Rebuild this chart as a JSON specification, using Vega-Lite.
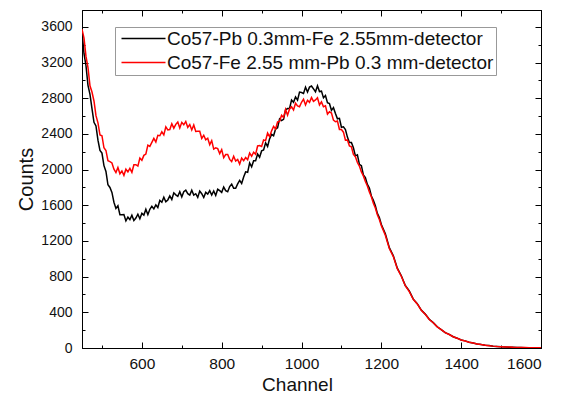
{
  "$schema": "https://vega.github.io/schema/vega-lite/v6.json",
  "width": 459,
  "height": 338,
  "autosize": {"type": "none"},
  "padding": {"left": 82, "top": 10, "right": 20, "bottom": 50},
  "background": "white",
  "config": {
    "font": "Liberation Sans",
    "view": {"stroke": "#000", "strokeWidth": 1},
    "axis": {"grid": false, "ticks": true, "tickWidth": 1, "tickSize": -6, "domainColor": "#000", "tickColor": "#000", "labelColor": "#111", "titleColor": "#111", "titleFontWeight": "normal", "labelFont": "Liberation Sans", "titleFont": "Liberation Sans"}
  },
  "data": {"values": [
    {"ch":450,"pb":3550,"fe":3575},{"ch":455,"pb":3300,"fe":3475},{"ch":460,"pb":3165,"fe":3270},{"ch":465,"pb":2945,"fe":3145},{"ch":470,"pb":2845,"fe":2940},
    {"ch":475,"pb":2685,"fe":2870},{"ch":480,"pb":2530,"fe":2770},{"ch":485,"pb":2490,"fe":2605},{"ch":490,"pb":2330,"fe":2525},{"ch":495,"pb":2215,"fe":2390},
    {"ch":500,"pb":2185,"fe":2380},{"ch":505,"pb":2045,"fe":2245},{"ch":510,"pb":1980,"fe":2215},{"ch":515,"pb":1830,"fe":2100},{"ch":520,"pb":1800,"fe":2090},
    {"ch":525,"pb":1745,"fe":2075},{"ch":530,"pb":1635,"fe":2005},{"ch":535,"pb":1565,"fe":1967},{"ch":540,"pb":1595,"fe":2025},{"ch":545,"pb":1495,"fe":1954},
    {"ch":550,"pb":1495,"fe":1985},{"ch":555,"pb":1497,"fe":1936},{"ch":560,"pb":1425,"fe":2005},{"ch":565,"pb":1467,"fe":1974},{"ch":570,"pb":1440,"fe":2015},
    {"ch":575,"pb":1490,"fe":1970},{"ch":580,"pb":1430,"fe":2055},{"ch":585,"pb":1457,"fe":2055},{"ch":590,"pb":1500,"fe":2040},{"ch":595,"pb":1450,"fe":2130},
    {"ch":600,"pb":1510,"fe":2105},{"ch":605,"pb":1490,"fe":2160},{"ch":610,"pb":1555,"fe":2175},{"ch":615,"pb":1495,"fe":2275},{"ch":620,"pb":1555,"fe":2260},
    {"ch":625,"pb":1590,"fe":2305},{"ch":630,"pb":1560,"fe":2350},{"ch":635,"pb":1605,"fe":2310},{"ch":640,"pb":1575,"fe":2385},{"ch":645,"pb":1655,"fe":2380},
    {"ch":650,"pb":1635,"fe":2425},{"ch":655,"pb":1692,"fe":2390},{"ch":660,"pb":1640,"fe":2480},{"ch":665,"pb":1660,"fe":2445},{"ch":670,"pb":1705,"fe":2450},
    {"ch":675,"pb":1665,"fe":2515},{"ch":680,"pb":1740,"fe":2465},{"ch":685,"pb":1717,"fe":2508},{"ch":690,"pb":1700,"fe":2535},{"ch":695,"pb":1753,"fe":2468},
    {"ch":700,"pb":1695,"fe":2530},{"ch":705,"pb":1753,"fe":2503},{"ch":710,"pb":1770,"fe":2540},{"ch":715,"pb":1730,"fe":2473},{"ch":720,"pb":1715,"fe":2505},
    {"ch":725,"pb":1770,"fe":2445},{"ch":730,"pb":1715,"fe":2500},{"ch":735,"pb":1730,"fe":2428},{"ch":740,"pb":1690,"fe":2430},{"ch":745,"pb":1760,"fe":2430},
    {"ch":750,"pb":1730,"fe":2350},{"ch":755,"pb":1687,"fe":2385},{"ch":760,"pb":1745,"fe":2335},{"ch":765,"pb":1725,"fe":2352},{"ch":770,"pb":1765,"fe":2280},
    {"ch":775,"pb":1715,"fe":2325},{"ch":780,"pb":1760,"fe":2230},{"ch":785,"pb":1710,"fe":2245},{"ch":790,"pb":1780,"fe":2235},{"ch":795,"pb":1765,"fe":2180},
    {"ch":800,"pb":1745,"fe":2225},{"ch":805,"pb":1805,"fe":2135},{"ch":810,"pb":1765,"fe":2170},{"ch":815,"pb":1752,"fe":2170},{"ch":820,"pb":1810,"fe":2115},
    {"ch":825,"pb":1837,"fe":2090},{"ch":830,"pb":1790,"fe":2150},{"ch":835,"pb":1790,"fe":2097},{"ch":840,"pb":1840,"fe":2115},{"ch":845,"pb":1880,"fe":2062},
    {"ch":850,"pb":1845,"fe":2130},{"ch":855,"pb":1917,"fe":2100},{"ch":860,"pb":1975,"fe":2135},{"ch":865,"pb":1970,"fe":2110},{"ch":870,"pb":2075,"fe":2185},
    {"ch":875,"pb":2032,"fe":2150},{"ch":880,"pb":2100,"fe":2195},{"ch":885,"pb":2100,"fe":2172},{"ch":890,"pb":2175,"fe":2265},{"ch":895,"pb":2140,"fe":2270},
    {"ch":900,"pb":2210,"fe":2260},{"ch":905,"pb":2220,"fe":2332},{"ch":910,"pb":2300,"fe":2325},{"ch":915,"pb":2260,"fe":2410},{"ch":920,"pb":2345,"fe":2370},
    {"ch":925,"pb":2395,"fe":2435},{"ch":930,"pb":2380,"fe":2485},{"ch":935,"pb":2455,"fe":2455},{"ch":940,"pb":2470,"fe":2535},{"ch":945,"pb":2570,"fe":2540},
    {"ch":950,"pb":2550,"fe":2610},{"ch":955,"pb":2565,"fe":2585},{"ch":960,"pb":2670,"fe":2675},{"ch":965,"pb":2685,"fe":2610},{"ch":970,"pb":2685,"fe":2680},
    {"ch":975,"pb":2780,"fe":2705},{"ch":980,"pb":2755,"fe":2670},{"ch":985,"pb":2815,"fe":2745},{"ch":990,"pb":2780,"fe":2715},{"ch":995,"pb":2870,"fe":2705},
    {"ch":1000,"pb":2865,"fe":2755},{"ch":1005,"pb":2855,"fe":2790},{"ch":1010,"pb":2925,"fe":2725},{"ch":1015,"pb":2870,"fe":2778},{"ch":1020,"pb":2925,"fe":2755},
    {"ch":1025,"pb":2938,"fe":2808},{"ch":1030,"pb":2905,"fe":2765},{"ch":1035,"pb":2873,"fe":2781},{"ch":1040,"pb":2940,"fe":2805},{"ch":1045,"pb":2875,"fe":2725},
    {"ch":1050,"pb":2880,"fe":2760},{"ch":1055,"pb":2805,"fe":2705},{"ch":1060,"pb":2830,"fe":2715},{"ch":1065,"pb":2750,"fe":2622},{"ch":1070,"pb":2740,"fe":2650},
    {"ch":1075,"pb":2665,"fe":2635},{"ch":1080,"pb":2695,"fe":2555},{"ch":1085,"pb":2630,"fe":2537},{"ch":1090,"pb":2570,"fe":2545},{"ch":1095,"pb":2575,"fe":2450},
    {"ch":1100,"pb":2475,"fe":2450},{"ch":1105,"pb":2480,"fe":2420},{"ch":1110,"pb":2450,"fe":2330},{"ch":1115,"pb":2365,"fe":2333},{"ch":1120,"pb":2305,"fe":2265},
    {"ch":1125,"pb":2305,"fe":2255},{"ch":1130,"pb":2245,"fe":2170},{"ch":1135,"pb":2155,"fe":2145},{"ch":1140,"pb":2165,"fe":2080},{"ch":1145,"pb":2060,"fe":2040},
    {"ch":1150,"pb":2045,"fe":1974},{"ch":1155,"pb":1940,"fe":1930},{"ch":1160,"pb":1910,"fe":1866},{"ch":1165,"pb":1835,"fe":1817},{"ch":1170,"pb":1795,"fe":1750},
    {"ch":1175,"pb":1705,"fe":1696},{"ch":1180,"pb":1655,"fe":1624},{"ch":1185,"pb":1595,"fe":1570},{"ch":1190,"pb":1510,"fe":1495},{"ch":1195,"pb":1463,"fe":1442},
    {"ch":1200,"pb":1385,"fe":1372},{"ch":1210,"pb":1280,"fe":1265},{"ch":1220,"pb":1125,"fe":1115},{"ch":1230,"pb":1035,"fe":1025},{"ch":1240,"pb":895,"fe":890},
    {"ch":1250,"pb":810,"fe":805},{"ch":1260,"pb":700,"fe":698},{"ch":1270,"pb":640,"fe":632},{"ch":1280,"pb":548,"fe":546},{"ch":1290,"pb":497,"fe":494},
    {"ch":1300,"pb":425,"fe":424},{"ch":1310,"pb":380,"fe":378},{"ch":1320,"pb":322,"fe":320},{"ch":1330,"pb":284,"fe":283},{"ch":1340,"pb":238,"fe":237},
    {"ch":1350,"pb":207,"fe":206},{"ch":1360,"pb":173,"fe":172},{"ch":1370,"pb":152,"fe":151},{"ch":1380,"pb":126,"fe":126},{"ch":1390,"pb":110,"fe":109},
    {"ch":1400,"pb":90,"fe":90},{"ch":1410,"pb":80,"fe":79},{"ch":1420,"pb":65,"fe":65},{"ch":1430,"pb":56,"fe":55},{"ch":1440,"pb":45,"fe":46},
    {"ch":1450,"pb":39,"fe":38},{"ch":1460,"pb":31,"fe":32},{"ch":1470,"pb":27,"fe":26},{"ch":1480,"pb":20,"fe":21},{"ch":1490,"pb":18,"fe":17},
    {"ch":1500,"pb":13,"fe":14},{"ch":1510,"pb":12,"fe":11},{"ch":1520,"pb":9,"fe":10},{"ch":1530,"pb":8,"fe":8},{"ch":1540,"pb":6,"fe":7},
    {"ch":1550,"pb":6,"fe":5},{"ch":1560,"pb":4,"fe":5},{"ch":1570,"pb":4,"fe":4},{"ch":1580,"pb":3,"fe":3},{"ch":1590,"pb":3,"fe":2},{"ch":1600,"pb":2,"fe":2}
  ]},
  "transform": [{"fold": ["pb", "fe"], "as": ["series", "counts"]}],
  "resolve": {"axis": {"x": "independent", "y": "independent"}},
  "layer": [
    {
      "mark": {"type": "line", "strokeWidth": 1.5, "clip": true},
      "encoding": {
        "x": {"field": "ch", "type": "quantitative",
          "scale": {"domain": [450, 1600], "nice": false, "zero": false},
          "axis": {"title": "Channel", "values": [500,600,700,800,900,1000,1100,1200,1300,1400,1500,1600],
            "labelExpr": "datum.value % 200 === 0 ? datum.label : ''", "format": "d",
            "tickDash": {"condition": {"test": "datum.value % 200 === 0", "value": [6, 0]}, "value": [3, 20]},
            "labelPadding": 14, "labelFontSize": 15.5,
            "titleFontSize": 19, "titleX": 215, "titleY": 42, "titleBaseline": "alphabetic", "titleAlign": "center", "titleAnchor": null}},
        "y": {"field": "counts", "type": "quantitative",
          "scale": {"domain": [0, 3790], "nice": false},
          "axis": {"title": "Counts", "values": [0,200,400,600,800,1000,1200,1400,1600,1800,2000,2200,2400,2600,2800,3000,3200,3400,3600],
            "labelExpr": "datum.value % 400 === 0 ? datum.label : ''", "format": "d",
            "tickDash": {"condition": {"test": "datum.value % 400 === 0", "value": [6, 0]}, "value": [3, 20]},
            "labelPadding": 16, "labelFontSize": 14,
            "titleFontSize": 20, "titleX": -50, "titleY": 169, "titleAngle": -90, "titleBaseline": "alphabetic", "titleAlign": "center", "titleAnchor": null}},
        "color": {"field": "series", "type": "nominal",
          "scale": {"domain": ["pb", "fe"], "range": ["#000000", "#ff0000"]},
          "legend": {"orient": "none", "legendX": 33, "legendY": 17, "title": null,
            "labelExpr": "datum.label === 'pb' ? 'Co57-Pb 0.3mm-Fe 2.55mm-detector' : 'Co57-Fe 2.55 mm-Pb 0.3 mm-detector'",
            "labelFontSize": 19, "labelColor": "#111", "labelFont": "Liberation Sans", "labelLimit": 500,
            "symbolType": "M-4.4,0H4.4", "symbolSize": 100, "symbolStrokeWidth": 1.5, "symbolOffset": 17, "labelOffset": 14,
            "rowPadding": 4, "padding": 2, "strokeColor": "#999", "fillColor": "white"}}
      }
    },
    {
      "mark": {"type": "line", "strokeOpacity": 0},
      "encoding": {
        "x": {"field": "ch", "type": "quantitative",
          "scale": {"domain": [450, 1600], "nice": false, "zero": false},
          "axis": {"orient": "top", "title": null, "labels": false, "values": [500,600,700,800,900,1000,1100,1200,1300,1400,1500,1600],
            "tickDash": {"condition": {"test": "datum.value % 200 === 0", "value": [6, 0]}, "value": [3, 20]}}},
        "y": {"field": "counts", "type": "quantitative",
          "scale": {"domain": [0, 3790], "nice": false},
          "axis": {"orient": "right", "title": null, "labels": false, "values": [0,200,400,600,800,1000,1200,1400,1600,1800,2000,2200,2400,2600,2800,3000,3200,3400,3600],
            "tickDash": {"condition": {"test": "datum.value % 400 === 0", "value": [6, 0]}, "value": [3, 20]}}},
        "detail": {"field": "series", "type": "nominal"}
      }
    }
  ]
}
